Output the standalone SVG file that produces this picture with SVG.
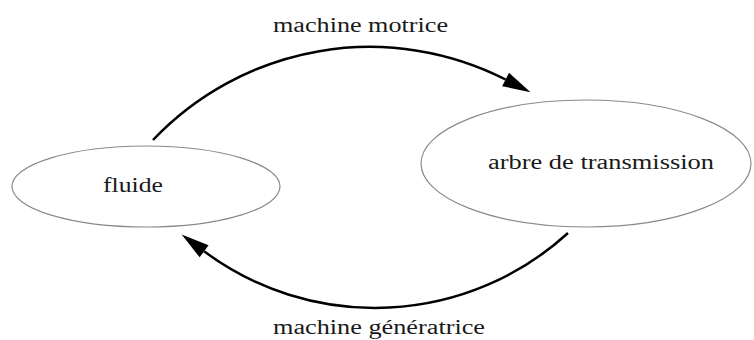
<svg xmlns="http://www.w3.org/2000/svg" width="754" height="340" viewBox="0 0 754 340">
  <style>
    .node { fill: #ffffff; stroke: #8a8a8a; stroke-width: 1.2; }
    .lbl { font-family: "Liberation Serif", "Times New Roman", serif; font-size: 20px; fill: #1a1a1a; }
    .edge { fill: none; stroke: #000000; stroke-width: 2.5; }
  </style>
  <defs>
    <marker id="arrow" markerUnits="userSpaceOnUse" markerWidth="30" markerHeight="18" refX="0" refY="0" viewBox="0 -9 30 18" orient="auto" overflow="visible">
      <path d="M0,-7.5 L28,0 L0,7.5 Z" fill="#000000"/>
    </marker>
  </defs>
  <rect width="754" height="340" fill="#ffffff"/>
  <g id="fluide">
    <ellipse class="node" cx="146" cy="186.5" rx="134" ry="40.5"/>
    <text class="lbl" x="103" y="192" textLength="60" lengthAdjust="spacingAndGlyphs">fluide</text>
  </g>
  <g id="arbre">
    <ellipse class="node" cx="586" cy="163.5" rx="165" ry="63.5"/>
    <text class="lbl" x="488" y="169" textLength="226" lengthAdjust="spacingAndGlyphs">arbre de transmission</text>
  </g>
  <g id="connectors">
    <path class="edge" d="M153,140 A299,299 0 0 1 505.6,79.5" marker-end="url(#arrow)"/>
    <path class="edge" d="M568,233 A286,286 0 0 1 204.1,251.3" marker-end="url(#arrow)"/>
    <text class="lbl" x="273" y="32" textLength="175" lengthAdjust="spacingAndGlyphs">machine motrice</text>
    <text class="lbl" x="273" y="334" textLength="212" lengthAdjust="spacingAndGlyphs">machine génératrice</text>
  </g>
</svg>
